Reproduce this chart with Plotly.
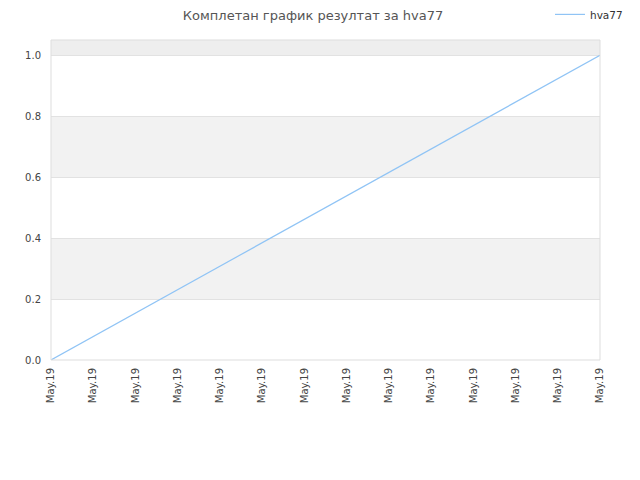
import plotly.graph_objects as go

title = "Комплетан график резултат за hva77"
series_name = "hva77"
tick_labels = ["May.19"] * 14
x_points = [0, 13]
y_points = [0.0, 1.0]
y_ticks = [0.0, 0.2, 0.4, 0.6, 0.8, 1.0]

fig = go.Figure()
fig.add_trace(go.Scatter(
    x=x_points, y=y_points, mode="lines", name=series_name,
    line=dict(color="#90c4f5", width=1.2),
))

# alternating bands
shapes = []
for lo, hi in [(0.2, 0.4), (0.6, 0.8)]:
    shapes.append(dict(type="rect", xref="paper", yref="y", x0=0, x1=1, y0=lo, y1=hi,
                       fillcolor="#f2f2f2", line_width=0, layer="below"))
shapes.append(dict(type="rect", xref="paper", yref="y", x0=0, x1=1, y0=1.0, y1=1.05,
                   fillcolor="#eeeeee", line_width=0, layer="below"))
shapes.append(dict(type="rect", xref="paper", yref="paper", x0=0, x1=1, y0=0, y1=1,
                   line=dict(color="#dddddd", width=1)))

fig.update_layout(
    width=640, height=480,
    margin=dict(l=43, r=48, t=32, b=128, autoexpand=False),
    paper_bgcolor="white", plot_bgcolor="white",
    font=dict(family="DejaVu Sans", size=10, color="#444444"),
    title=dict(text=title, xref="container", x=0.4767, xanchor="center",
               yref="container", y=0.984, yanchor="middle",
               font=dict(size=13, color="#555555")),
    showlegend=True,
    legend=dict(x=1.051, xanchor="right", yref="paper", y=1.08, yanchor="middle",
                itemwidth=30, font=dict(size=10.5, color="#333333"),
                bgcolor="rgba(0,0,0,0)"),
    shapes=shapes,
    xaxis=dict(range=[0, 13], tickmode="array", tickvals=list(range(len(tick_labels))),
               ticktext=tick_labels, tickangle=-90, showgrid=False, zeroline=False,
               showline=False, ticks="", automargin=False, ticklabelstandoff=5,
               tickfont=dict(size=10, color="#444444")),
    yaxis=dict(range=[0, 1.05], tickvals=y_ticks, ticktext=[f"{v:.1f}" for v in y_ticks],
               showgrid=True, gridcolor="#e2e2e2", zeroline=False, showline=False,
               ticks="", automargin=False, ticklabelstandoff=9,
               tickfont=dict(size=10, color="#444444")),
)

fig.write_html("out.html")
